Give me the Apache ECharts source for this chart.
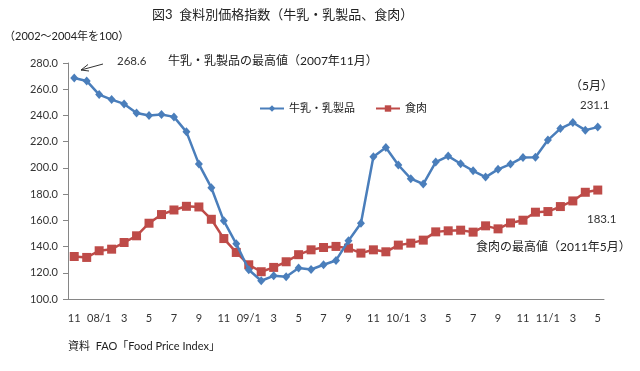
<!DOCTYPE html>
<html><head><meta charset="utf-8">
<script src="https://cdn.jsdelivr.net/npm/echarts@6/dist/echarts.min.js"></script>
<style>html,body{margin:0;padding:0;background:#fff}#c{width:640px;height:371px}</style>
</head><body><div id="c"></div>
<script>
const months = ["11","12","08/1","2","3","4","5","6","7","8","9","10","11","12",
  "09/1","2","3","4","5","6","7","8","9","10","11","12",
  "10/1","2","3","4","5","6","7","8","9","10","11","12",
  "11/1","2","3","4","5"];
const dairy = [268.6,266.3,255.9,252.1,248.8,241.9,239.9,240.7,238.9,227.5,
  202.9,184.9,159.6,142.1,122.3,113.9,117.7,117.0,123.7,122.5,
  126.1,129.4,144.4,157.8,208.5,215.6,202.2,191.8,187.7,204.4,
  209.0,203.2,197.8,193.0,198.9,202.9,208.0,208.2,221.2,230.0,
  234.6,228.8,231.1];
const meat = [132.4,131.7,136.8,138.0,143.1,148.2,157.8,164.4,167.9,170.7,
  170.2,160.8,146.1,135.5,126.1,120.8,124.1,128.4,133.8,137.5,
  139.3,140.1,138.8,135.0,137.5,136.0,141.1,142.6,144.9,151.2,
  152.0,152.5,151.0,155.8,153.5,158.0,160.1,166.2,166.7,170.5,
  174.8,181.4,183.1];
const seriesNames = ["牛乳・乳製品","食肉"];
const yTicks = [100,120,140,160,180,200,220,240,260,280];

const FONT = "Lato, 'Noto Sans CJK JP', sans-serif";
const TXT = "#333";
const chart = echarts.init(document.getElementById('c'), null, {renderer:'canvas'});
chart.setOption({
  animation:false,
  backgroundColor:'#fff',
  textStyle:{fontFamily:FONT},
  grid:{left:68,right:36,top:63,bottom:72,containLabel:false},
  legend:{
    left:254, top:98, itemGap:20, itemWidth:24, itemHeight:8,
    textStyle:{fontFamily:FONT,fontSize:11,color:'#222'},
    data:seriesNames
  },
  xAxis:{
    type:'category', data:months, boundaryGap:true,
    axisLine:{lineStyle:{color:'#868686',width:1}},
    axisTick:{interval:0,length:5,lineStyle:{color:'#868686'}},
    axisLabel:{interval:1,color:TXT,fontSize:11,fontFamily:FONT,margin:14}
  },
  yAxis:{
    type:'value', min:yTicks[0], max:yTicks[yTicks.length-1], interval:20,
    axisLine:{show:true,lineStyle:{color:'#868686',width:1}},
    axisTick:{show:true,length:5,lineStyle:{color:'#868686'}},
    splitLine:{show:false},
    axisLabel:{color:TXT,fontSize:11,fontFamily:FONT,margin:10,formatter:v=>v.toFixed(1)}
  },
  series:[
    {name:seriesNames[0],type:'line',data:dairy,symbol:'diamond',symbolSize:[8,9],showAllSymbol:true,
     lineStyle:{color:'#4A7EBB',width:2.5},itemStyle:{color:'#4A7EBB'},z:3},
    {name:seriesNames[1],type:'line',data:meat,symbol:'rect',symbolSize:9,showAllSymbol:true,
     lineStyle:{color:'#BE4B48',width:2.5},itemStyle:{color:'#BE4B48'},z:2}
  ],
  graphic:[
    {type:'text',left:152,top:8,style:{text:'図3  食料別価格指数（牛乳・乳製品、食肉）',font:"13px "+FONT,fill:'#222'}},
    {type:'text',left:4,top:31,style:{text:'（2002〜2004年を100）',font:"11px "+FONT,fill:'#222'}},
    {type:'text',left:117,top:56,style:{text:dairy[0].toFixed(1),font:"11.5px "+FONT,fill:'#333'}},
    {type:'text',left:168,top:55,style:{text:'牛乳・乳製品の最高値（2007年11月）',font:"12px "+FONT,fill:'#222'}},
    {type:'line',shape:{x1:103,y1:64,x2:81,y2:70},style:{stroke:'#333',lineWidth:1}},
    {type:'polyline',shape:{points:[[88,64.5],[81,70],[89,71]]},style:{stroke:'#333',lineWidth:1,fill:null}},
    {type:'text',left:570,top:80,style:{text:'（5月）',font:"12px "+FONT,fill:'#222'}},
    {type:'text',left:580,top:100,style:{text:dairy[dairy.length-1].toFixed(1),font:"11.5px "+FONT,fill:'#333'}},
    {type:'text',left:587,top:214,style:{text:meat[meat.length-1].toFixed(1),font:"11.5px "+FONT,fill:'#333'}},
    {type:'text',left:476,top:241,style:{text:'食肉の最高値（2011年5月）',font:"12px "+FONT,fill:'#222'}},
    {type:'text',left:68,top:341,style:{text:'資料  FAO「Food Price Index」',font:"11px "+FONT,fill:'#222'}}
  ]
});
</script></body></html>
